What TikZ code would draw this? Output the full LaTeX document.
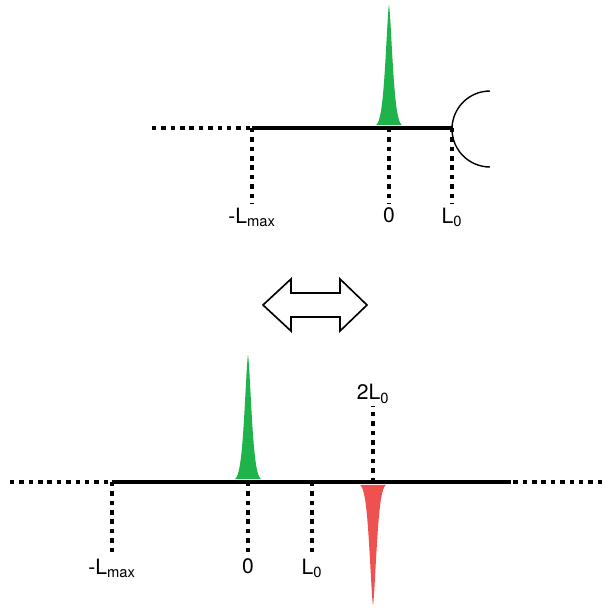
\documentclass[tikz,border=0pt]{standalone}
\usepackage{fontspec}
\setmainfont{TeX Gyre Heros}
\usetikzlibrary{positioning}
\definecolor{peakgreen}{RGB}{30,180,75}
\definecolor{peakred}{RGB}{238,82,80}
% filled peak: colour, x, base y, height (negative = downwards)
\newcommand{\drawpeak}[4]{%
  \fill[#1] plot[domain=-13:13,samples=121] ({#2+\x},{#3-(#4)*exp(-((abs(\x)+0.001)/5)^1.5)}) -- cycle;}

\begin{document}
\begin{tikzpicture}[
 x=0.03cm,y=-0.03cm,
 axis/.style={line width=3pt},
 dots/.style={line width=2.6pt,dash pattern=on 3.8pt off 4.2pt},
 lbl/.style={inner sep=0pt,font=\fontsize{18}{21}\selectfont},
 mirror/.style={line width=1.2pt},
 dblarrow/.style={line width=1.4pt,line join=miter}
]
\useasboundingbox (0,0) rectangle (604,610);

% upper picture
\coordinate (uStart) at (152,128);
\coordinate (uLmax) at (252,128);
\coordinate (uZero) at (389,128);
\coordinate (uLz) at (452,128);
\coordinate (uLmaxE) at (252,204);
\coordinate (uZeroE) at (389,204);
\coordinate (uLzE) at (452,204);
\drawpeak{peakgreen}{389}{127}{122}
\draw[dots] (uStart) -- (uLmax);
\draw[axis] (uLmax) -- (uLz);
\draw[mirror] (490,91) arc[start angle=270,end angle=90,radius=38];
\draw[dots] (uLmax) -- (uLmaxE);
\draw[dots] (uZero) -- (uZeroE);
\draw[dots] (uLz) -- (uLzE);
\node[lbl,below=3pt of uLmaxE] (uLmaxLbl) {-L\textsubscript{max}};
\node[lbl,below=3pt of uZeroE] (uZeroLbl) {0};
\node[lbl,below=3pt of uLzE] (uLzLbl) {L\textsubscript{0}};

% double arrow
\draw[dblarrow] (263,305) -- (291,279) -- (291,293) -- (340,293) -- (340,279)
  -- (367,305) -- (340,331) -- (340,317) -- (291,317) -- (291,331) -- cycle;

% lower picture
\coordinate (lStart) at (10,482);
\coordinate (lLmax) at (112,482);
\coordinate (lZero) at (248,482);
\coordinate (lLz) at (312,482);
\coordinate (lTwo) at (373,482);
\coordinate (lEnd) at (511,482);
\coordinate (lStop) at (604,482);
\coordinate (lLmaxE) at (112,555);
\coordinate (lZeroE) at (248,555);
\coordinate (lLzE) at (312,555);
\coordinate (lTwoE) at (373,406);
\drawpeak{peakgreen}{248}{481}{126}
\drawpeak{peakred}{373}{483}{-122}
\draw[dots] (lStart) -- (lLmax);
\draw[axis] (lLmax) -- (lEnd);
\draw[dots] ([xshift=2pt]lEnd) -- (lStop);
\draw[dots] (lLmax) -- (lLmaxE);
\draw[dots] (lZero) -- (lZeroE);
\draw[dots] (lLz) -- (lLzE);
\draw[dots] (lTwo) -- (lTwoE);
\node[lbl,below=3pt of lLmaxE] (lLmaxLbl) {-L\textsubscript{max}};
\node[lbl,below=3pt of lZeroE] (lZeroLbl) {0};
\node[lbl,below=3pt of lLzE] (lLzLbl) {L\textsubscript{0}};
\node[lbl,above=2pt of lTwoE] (lTwoLbl) {2L\textsubscript{0}};
\end{tikzpicture}
\end{document}
